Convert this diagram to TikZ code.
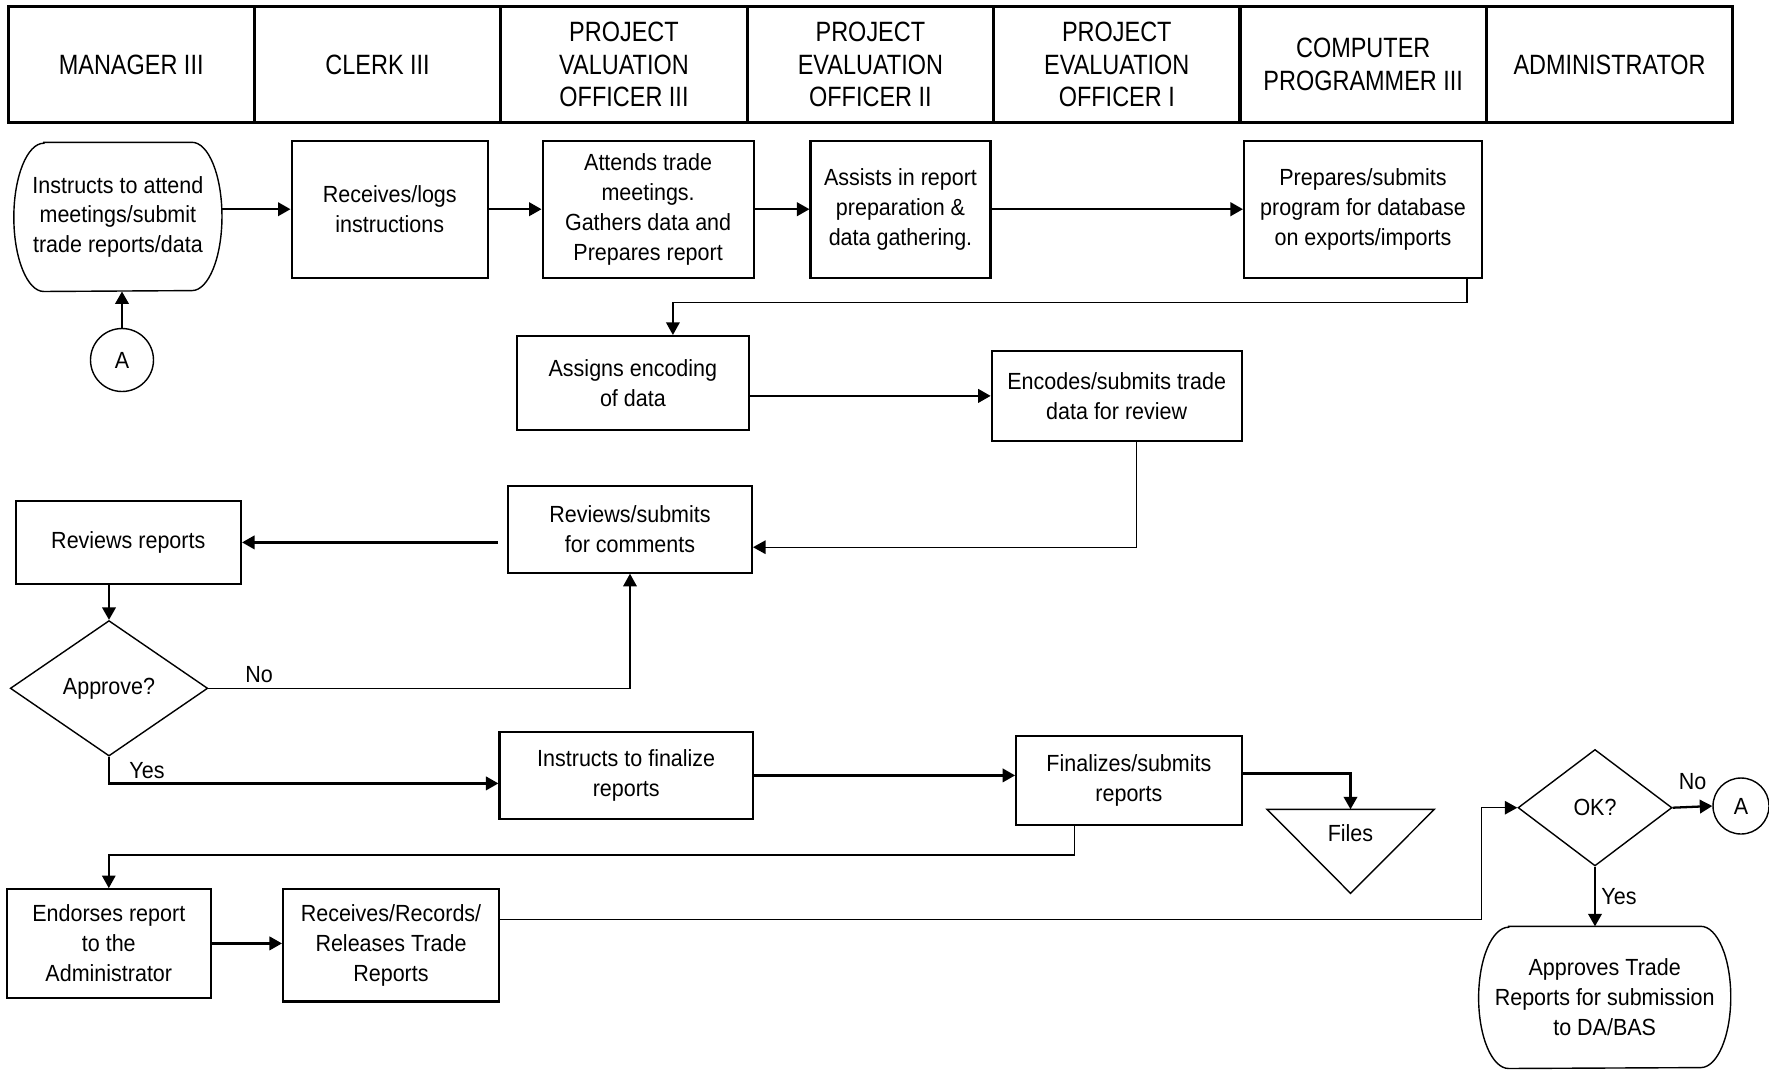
\documentclass[tikz,border=0pt]{standalone}
\usepackage{fontspec}
\setmainfont{Liberation Sans}[FakeStretch=0.92]
\newfontfamily\headfont{Liberation Sans}[FakeStretch=0.84]
\usetikzlibrary{arrows.meta,shapes.geometric,calc}

\tikzset{
  lane/.style={draw, line width=1.7pt, minimum width=4.926cm, minimum height=2.34cm,
    inner sep=0pt, align=center, font=\headfont\fontsize{15.9}{18.7}\selectfont},
  task/.style={draw, line width=1.2pt, inner sep=0pt, align=center,
    font=\fontsize{13.3}{17}\selectfont},
  term/.style={inner sep=0pt, align=center, font=\fontsize{13.3}{17}\selectfont},
  decide/.style={draw, diamond, line width=0.8pt, inner sep=0pt,
    font=\fontsize{13.3}{17}\selectfont},
  conn/.style={draw, circle, line width=0.8pt, inner sep=0pt,
    font=\fontsize{13.3}{17}\selectfont},
  lbl/.style={inner sep=2pt, font=\fontsize{13.3}{17}\selectfont},
  flow/.style={-{Triangle[length=0.25cm,width=0.27cm]}, line width=1.3pt},
  thinflow/.style={-{Triangle[length=0.25cm,width=0.27cm]}, line width=0.8pt}
}

% outline of a terminal step: flat top and bottom, half-ellipse sides
\newcommand{\termline}[2]{%
  \draw[line width=0.8pt] ($(#1.north west)+(30,0)$) -- ($(#1.north east)+(-30,0)$)
    arc[start angle=90, end angle=-90, x radius=0.6cm, y radius=#2]
    -- ($(#1.south west)+(30,0)$)
    arc[start angle=270, end angle=90, x radius=0.6cm, y radius=#2] -- cycle;}

\begin{document}
\begin{tikzpicture}[x=0.02cm, y=-0.02cm]
  \useasboundingbox (0,0) rectangle (1769,1069);

  % swim lane heads
  \node[lane] (hmgr) at (131.2,64.5) {MANAGER III};
  \node[lane] (hclerk) at (377.6,64.5) {CLERK III};
  \node[lane] (hpvo) at (624,64.5) {PROJECT\\VALUATION\\OFFICER III};
  \node[lane] (hpeotwo) at (870.4,64.5) {PROJECT\\EVALUATION\\OFFICER II};
  \node[lane] (hpeoone) at (1116.8,64.5) {PROJECT\\EVALUATION\\OFFICER I};
  \node[lane] (hprog) at (1363.2,64.5) {COMPUTER\\PROGRAMMER III};
  \node[lane] (hadmin) at (1609.6,64.5) {ADMINISTRATOR};

  % steps
  \node[term, minimum width=4.15cm, minimum height=2.97cm] (instr) at (117.9,216.9)
    {Instructs to attend\\meetings/submit\\trade reports/data};
  \termline{instr}{1.483cm}
  \node[conn, minimum size=1.26cm] (a1) at (122,360) {A};
  \node[task, minimum width=3.93cm, minimum height=2.74cm] (recv) at (389.8,209.2)
    {Receives/logs\\instructions};
  \node[task, minimum width=4.22cm, minimum height=2.74cm] (attend) at (648.1,209.2)
    {Attends trade\\meetings.\\Gathers data and\\Prepares report};
  \node[task, minimum width=3.6cm, minimum height=2.74cm] (assist) at (900.5,209.2)
    {Assists in report\\preparation \&\\data gathering.};
  \node[task, minimum width=4.76cm, minimum height=2.74cm] (prep) at (1363,209.2)
    {Prepares/submits\\program for database\\on exports/imports};
  \node[task, minimum width=4.65cm, minimum height=1.88cm] (assign) at (632.9,383)
    {Assigns encoding\\of data};
  \node[task, minimum width=5cm, minimum height=1.81cm] (encode) at (1116.7,395.9)
    {Encodes/submits trade\\data for review};
  \node[task, minimum width=4.88cm, minimum height=1.74cm] (revsub) at (630,529.2)
    {Reviews/submits\\for comments};
  \node[task, minimum width=4.51cm, minimum height=1.65cm] (revrep) at (128.3,542.4)
    {Reviews reports};
  \node[decide, minimum width=3.95cm, minimum height=2.71cm, aspect=1.46] (approve)
    at (109,688.3) {Approve?};
  \node[task, minimum width=5.07cm, minimum height=1.75cm] (finalize) at (626.2,775.4)
    {Instructs to finalize\\reports};
  \node[task, minimum width=4.51cm, minimum height=1.79cm] (finsub) at (1128.9,780.4)
    {Finalizes/submits\\reports};
  \draw[line width=0.8pt] (1267,809.3) -- (1434.4,809.3) -- (1350.5,893.3) -- cycle;
  \coordinate (filestop) at (1350.5,809.3);
  \node[lbl] (files) at (1350.5,833) {Files};
  \node[task, minimum width=4.08cm, minimum height=2.17cm] (endorse) at (108.8,943.4)
    {Endorses report\\to the\\Administrator};
  \node[task, minimum width=4.32cm, minimum height=2.25cm] (rrr) at (391,945.3)
    {Receives/Records/\\Releases Trade\\Reports};
  \node[decide, minimum width=3.08cm, minimum height=2.33cm, aspect=1.32] (ok)
    at (1595,807.7) {OK?};
  \node[conn, minimum size=1.12cm] (a2) at (1741,806) {A};
  \node[term, minimum width=5.03cm, minimum height=2.83cm] (approves) at (1604.7,997.4)
    {Approves Trade\\Reports for submission\\to DA/BAS};
  \termline{approves}{1.413cm}

  % connectors
  \draw[flow] (a1.north) -- (a1.north |- instr.south);
  \draw[flow] (instr.east |- recv.west) -- (recv.west);
  \draw[flow] (recv) -- (attend);
  \draw[flow] (attend) -- (assist);
  \draw[flow] (assist) -- (prep);
  \draw[thinflow] ($(prep.south)+(104,0)$) -- ++(0,24) -| ($(assign.north)+(40,0)$);
  \draw[flow] (assign.east |- encode.west) -- (encode.west);
  \draw[thinflow] ($(encode.south)+(20,0)$) |- ($(revsub.east)+(0,18)$);
  \draw[flow] (revsub.west |- revrep.east) ++(-9,0) -- (revrep.east);
  \draw[flow] (approve.north |- revrep.south) -- (approve.north);
  \draw[thinflow] (approve.east) -| (revsub.south)
    node[lbl, pos=0.06, above=1pt] (no1) {No};
  \draw[flow] (approve.south) |- ($(finalize.west)+(0,8)$)
    node[lbl, pos=0.25, right=9pt] (yes1) {Yes};
  \draw[flow] (finalize.east) -- (finalize.east -| finsub.west);
  \draw[flow] ($(finsub.east)+(0,-7)$) -| (filestop);
  \draw[thinflow] ($(finsub.south)+(-54.5,0)$) |- ($(endorse.north)+(0,-33)$) -- (endorse.north);
  \draw[flow] (endorse.east) -- (endorse.east -| rrr.west);
  \draw[thinflow] ($(rrr.east)+(0,-26)$) -| ($(ok.west)+(-36,0)$) -- (ok.west);
  \draw[flow] (ok.east) -- (a2.west) node[lbl, midway, above=7pt] (no2) {No};
  \draw[flow] (ok.south) -- (ok.south |- approves.north)
    node[lbl, midway, right=1pt] (yes2) {Yes};
\end{tikzpicture}
\end{document}
